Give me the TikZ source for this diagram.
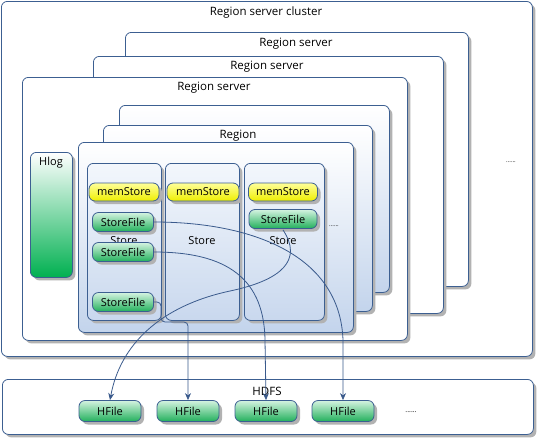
\documentclass[tikz,border=0pt]{standalone}
\usepackage{fontspec}
\setmainfont{Open Sans}
\usetikzlibrary{shadows,arrows.meta}
\definecolor{borderc}{HTML}{3C5F91}
\definecolor{linec}{HTML}{3A5A8C}
\definecolor{regbot}{HTML}{C3D4EC}
\definecolor{sttop}{HTML}{F3F7FC}
\definecolor{stbot}{HTML}{C9D8EE}
\definecolor{memtop}{HTML}{FFFF99}
\definecolor{membot}{HTML}{EEEE00}
\definecolor{sftop}{HTML}{D4F3E0}
\definecolor{sfbot}{HTML}{22B05C}
\definecolor{hlogbot}{HTML}{00B050}
\tikzset{
  shad/.style={drop shadow={shadow xshift=3pt,shadow yshift=-3pt,fill=black!30,opacity=1}},
  bigbox/.style={draw=borderc,line width=0.8pt,rounded corners=6pt,fill=white,anchor=north west,inner sep=0pt,shad},
  regbox/.style={draw=borderc,line width=0.8pt,rounded corners=6pt,top color=white,bottom color=regbot,anchor=north west,inner sep=0pt,shad},
  storebox/.style={draw=borderc,line width=0.8pt,rounded corners=6pt,top color=sttop,bottom color=stbot,anchor=north west,inner sep=0pt,shad},
  hlogbox/.style={draw=borderc,line width=0.8pt,rounded corners=6pt,top color=white,bottom color=hlogbot,anchor=north west,inner sep=0pt,shad},
  membox/.style={draw=borderc,line width=0.8pt,rounded corners=6pt,top color=memtop,bottom color=membot,inner sep=0pt,minimum height=18pt,font=\fontsize{11}{12}\selectfont,shad},
  sfbox/.style={draw=borderc,line width=0.8pt,rounded corners=6pt,top color=sftop,bottom color=sfbot,inner sep=0pt,minimum height=19pt,font=\fontsize{11}{12}\selectfont,shad},
  title/.style={font=\fontsize{11.5}{13}\selectfont,inner sep=0pt},
  lbl/.style={font=\fontsize{11}{12}\selectfont,inner sep=0pt},
  dots/.style={font=\fontsize{6}{7}\selectfont,inner sep=0pt},
  conn/.style={draw=linec,line width=0.8pt},
  arr/.style={conn,-{Stealth[length=7pt,width=6pt]}}
}
\begin{document}
\begin{tikzpicture}[x=1pt,y=-1pt]
\useasboundingbox (0,0) rectangle (538,437);
% cluster
\node[bigbox,minimum width=531pt,minimum height=355pt] (cluster) at (1,1) {};
\node[title] (tcluster) at (266,13) {Region server cluster};
\node[dots] (dotsA) at (511,162) {......};
% region servers
\node[bigbox,minimum width=343pt,minimum height=254pt] (rs3) at (125,32) {};
\node[title] (trs3) at (296,44) {Region server};
\node[bigbox,minimum width=350pt,minimum height=257pt] (rs2) at (93,56) {};
\node[title] (trs2) at (267,67) {Region server};
\node[bigbox,minimum width=385pt,minimum height=263pt] (rs1) at (22,77) {};
\node[title] (trs1) at (214,88) {Region server};
% regions
\node[regbox,minimum width=270pt,minimum height=187pt] (rg3) at (119,105) {};
\node[regbox,minimum width=269pt,minimum height=186pt] (rg2) at (103,125) {};
\node[title] (trg2) at (238,136) {Region};
\node[regbox,minimum width=275pt,minimum height=190pt] (rg1) at (78,142) {};
% hlog
\node[hlogbox,minimum width=42pt,minimum height=125pt] (hlog) at (30,152) {};
\node[lbl] (thlog) at (51,163) {Hlog};
% stores
\node[storebox,minimum width=74pt,minimum height=157pt] (st1) at (87,163) {};
\node[storebox,minimum width=74pt,minimum height=157pt] (st2) at (165,163) {};
\node[storebox,minimum width=80pt,minimum height=157pt] (st3) at (244,163) {};
\node[dots] (dotsB) at (334,226) {......};
\node[lbl] (tst1) at (124,241) {Store};
\node[lbl] (tst2) at (202,241) {Store};
\node[lbl] (tst3) at (283,241) {Store};
% memstores
\node[membox,minimum width=70pt] (m1) at (124,192) {memStore};
\node[membox,minimum width=72pt] (m2) at (203,192) {memStore};
\node[membox,minimum width=69pt] (m3) at (283,192) {memStore};
% storefiles
\node[sfbox,minimum width=61pt] (sf1a) at (123,222) {StoreFile};
\node[sfbox,minimum width=61pt] (sf1b) at (123,252) {StoreFile};
\node[sfbox,minimum width=61pt] (sf1c) at (123,302) {StoreFile};
\node[sfbox,minimum width=68pt] (sf3a) at (283,219) {StoreFile};
% HDFS
\node[bigbox,minimum width=531pt,minimum height=55pt] (hdfs) at (2,379) {};
\node[title] (thdfs) at (267,391) {HDFS};
\node[sfbox,minimum width=62pt,minimum height=21pt] (hf1) at (110,411) {HFile};
\node[sfbox,minimum width=62pt,minimum height=21pt] (hf2) at (188,411) {HFile};
\node[sfbox,minimum width=62pt,minimum height=21pt] (hf3) at (266,411) {HFile};
\node[sfbox,minimum width=62pt,minimum height=21pt] (hf4) at (343,411) {HFile};
\node[dots,font=\fontsize{7}{8}\selectfont] (dotsC) at (411,412) {......};
% connectors
\draw[arr] (sf3a.south) ++(0,1) .. controls (303,260) and (282,280) .. (230,291)
   .. controls (160,306) and (120,345) .. (hf1.north);
\draw[arr,rounded corners=4pt] (sf1c.east) -| (161,322) -| (hf2.north);
\draw[arr] (sf1b.east) .. controls (218,252) and (264,272) .. (265,340) -- (hf3.north);
\draw[arr] (sf1a.east) .. controls (252,222) and (340,255) .. (343,340) -- (hf4.north);
\end{tikzpicture}
\end{document}
